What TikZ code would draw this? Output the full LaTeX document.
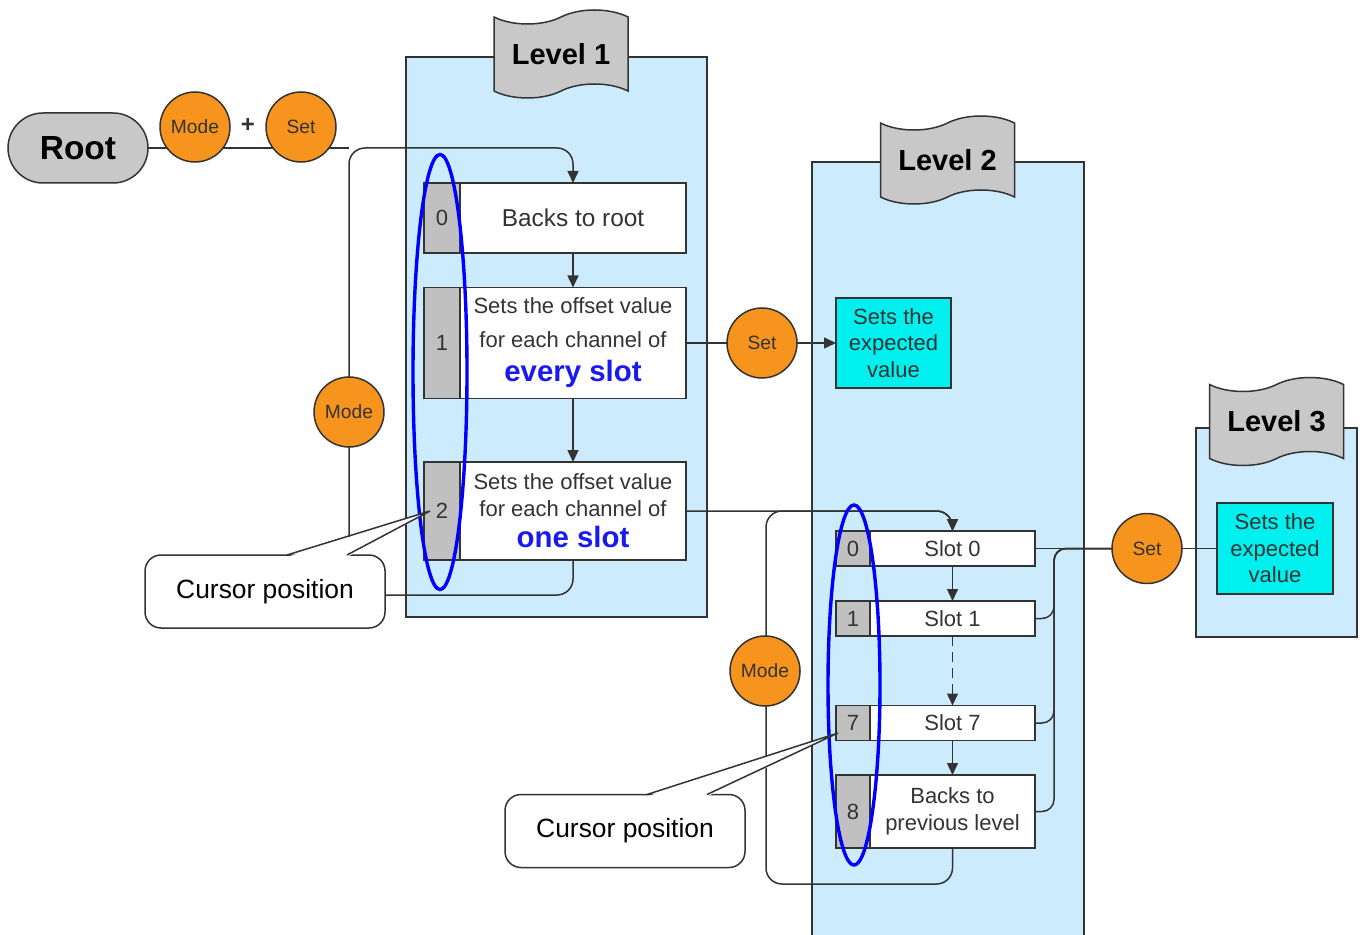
\documentclass[tikz,border=0pt]{standalone}
\usepackage{fontspec}
\setmainfont{Liberation Sans}
\usetikzlibrary{positioning,arrows.meta,shapes.geometric,shapes.symbols}
\definecolor{inkline}{HTML}{333333}
\definecolor{panelblue}{HTML}{CCEBFC}
\definecolor{btnorange}{HTML}{F7941D}
\definecolor{idxgrey}{HTML}{C0C0C0}
\definecolor{capgrey}{HTML}{C8C8C8}
\definecolor{tagcyan}{HTML}{00F0F0}
\definecolor{slotblue}{HTML}{1A1AF0}
\definecolor{ringblue}{HTML}{0000FF}
\definecolor{txtgrey}{HTML}{333333}
\newcommand{\fsz}[2]{\fontsize{#1}{#2}\selectfont}
\pgfdeclarelayer{panels}
\pgfdeclarelayer{wires}
\pgfsetlayers{panels,wires,main}
\tikzset{
  mn/.style={draw=inkline, line width=0.75pt, inner sep=0pt, outer sep=0pt, align=center, text=txtgrey},
  mn idx/.style={mn, fill=idxgrey, font=\fsz{11}{13}},
  mn entry/.style={mn, fill=white, font=\fsz{11}{13.5}},
  mn btn/.style={mn, circle, fill=btnorange, minimum size=35pt, font=\fsz{9.6}{11}},
  mn val/.style={mn, fill=tagcyan, minimum width=57.5pt, minimum height=45pt, font=\fsz{11}{13.2}},
  mn panel/.style={draw=inkline, line width=0.75pt, fill=panelblue},
  mn level/.style={mn, tape, fill=capgrey, text=black, minimum width=67pt, minimum height=44pt,
                   tape bend height=7pt, font=\bfseries\fsz{14.5}{16}},
  mn ring/.style={ellipse, draw=ringblue, line width=1.7pt, inner sep=0pt},
  mn call/.style={mn, fill=white, text=black, rounded corners=8pt, minimum width=120pt,
                  minimum height=36.5pt, font=\fsz{13.2}{15}},
  mn wire/.style={draw=inkline, line width=0.75pt, rounded corners=8pt},
  mn arr/.style={mn wire, -{Triangle[length=6pt,width=5.5pt]}},
}
\begin{document}
\begin{tikzpicture}[x=0.5pt, y=-0.5pt]
  \useasboundingbox (0,0) rectangle (1364,935);
  % the three level panels
  \begin{pgfonlayer}{panels}
    \node[mn panel, minimum width=150.5pt, minimum height=280pt] (L1) at (556.5,337) {};
    \node[mn panel, minimum width=136pt, minimum height=394pt] (L2) at (948,556) {};
    \node[mn panel, minimum width=80.5pt, minimum height=104.5pt] (L3) at (1276.5,532.5) {};
  \end{pgfonlayer}
  \node[mn level] (lv1) at (561,54) {Level 1};
  \node[mn level] (lv2) at (947.5,160) {Level 2};
  \node[mn level] (lv3) at (1276.5,421.5) {Level 3};
  % root and the key combination
  \node[mn, fill=capgrey, text=black, rounded corners=17.5pt, minimum width=70pt, minimum height=35pt,
        font=\bfseries\fsz{16.7}{18}] (root) at (78,148) {Root};
  \node[mn btn] (modeA) at (195,127) {Mode};
  \node[mn btn] (setA) at (301,127) {Set};
  \node[font=\bfseries\fsz{12}{14}, text=txtgrey] (plus) at (248,125) {+};
  % level 1 entries
  \node[mn idx, minimum width=18pt, minimum height=35pt] (i0) at (442,218) {0};
  \node[mn entry, right=0pt of i0, minimum width=113pt, minimum height=35pt, font=\fsz{12.2}{14}] (e0) {Backs to root};
  \node[mn idx, minimum width=18pt, minimum height=55.5pt] (i1) at (442,343) {1};
  \node[mn entry, right=0pt of i1, minimum width=113pt, minimum height=55.5pt, font=\fsz{11}{17}] (e1)
    {Sets the offset value\\for each channel of\\{\bfseries\color{slotblue}\fsz{14.7}{17}every slot}};
  \node[mn idx, minimum width=18pt, minimum height=49pt] (i2) at (442,511) {2};
  \node[mn entry, right=0pt of i2, minimum width=113pt, minimum height=49pt] (e2)
    {Sets the offset value\\for each channel of\\[2pt]{\bfseries\color{slotblue}\fsz{14.7}{17}one slot}};
  \node[mn btn] (modeB) at (349,412) {Mode};
  \node[mn btn] (setB) at (762,343) {Set};
  \node[mn val] (c2) at (893.5,343) {Sets the\\expected\\value};
  % level 2 entries
  \foreach \k/\y in {0/548.5,1/618.5,7/723} {
    \node[mn idx, minimum width=17pt, minimum height=17.5pt] (j\k) at (853,\y) {\k};
    \node[mn entry, right=0pt of j\k, minimum width=82.5pt, minimum height=17.5pt] (s\k) {Slot \k};
  }
  \node[mn idx, minimum width=17pt, minimum height=36.5pt] (j8) at (853,811.5) {8};
  \node[mn entry, right=0pt of j8, minimum width=82.5pt, minimum height=36.5pt] (s8) {Backs to\\previous level};
  \node[mn btn] (modeC) at (765,671) {Mode};
  \node[mn btn] (setC) at (1147,548.5) {Set};
  \node[mn val, minimum width=58pt, minimum height=45.5pt] (c3) at (1275,548.5) {Sets the\\expected\\value};
  % connectors
  \coordinate (lpA) at (349,595);
  \coordinate (lpB) at (349,148);
  \coordinate (lpC) at (766,884);
  \coordinate (lpD) at (766,511);
  \coordinate (bus) at (1054,548.5);
  \begin{pgfonlayer}{wires}
    \draw[mn wire] (root.east) -- (lpB);
    \draw[mn arr] (e2.south) |- (lpA) -- (lpB) -| (e0.north);
    \foreach \a/\b in {e0/e1,e1/e2,s0/s1,s7/s8} \draw[mn arr] (\a) -- (\b);
    \draw[mn arr, dash pattern=on 5pt off 3pt] (s1) -- (s7);
    \draw[mn wire] (e1.east) -- (setB);
    \draw[mn arr] (setB) -- (c2);
    \draw[mn arr] (e2.east) -| (s0.north);
    \draw[mn arr] (s8.south) |- (lpC) -- (lpD) -| (s0.north);
    \draw[mn wire] (s0.east) -- (setC) -- (c3);
    \foreach \n in {s1,s7,s8} \draw[mn wire, rounded corners=6pt] (\n.east) -| (bus) -- (setC);
  \end{pgfonlayer}
  % cursor rings and callouts
  \node[mn ring, minimum width=27pt, minimum height=217.5pt] (ring1) at (440,372) {};
  \node[mn ring, minimum width=26pt, minimum height=180pt] (ring2) at (854,685) {};
  \node[mn call] (cur1) at (265,591.5) {Cursor position};
  \fill[white] ([xshift=11pt,yshift=-1pt]cur1.north) -- ([xshift=3pt]i2.west) -- ([xshift=41pt,yshift=-1pt]cur1.north) -- cycle;
  \draw[mn wire, rounded corners=0pt] ([xshift=11pt]cur1.north) -- ([xshift=3pt]i2.west) -- ([xshift=41pt]cur1.north);
  \node[mn call] (cur2) at (625,831) {Cursor position};
  \fill[white] ([xshift=11pt,yshift=-1pt]cur2.north) -- ([xshift=1pt,yshift=-5pt]j7.west) -- ([xshift=41pt,yshift=-1pt]cur2.north) -- cycle;
  \draw[mn wire, rounded corners=0pt] ([xshift=11pt]cur2.north) -- ([xshift=1pt,yshift=-5pt]j7.west) -- ([xshift=41pt]cur2.north);
\end{tikzpicture}
\end{document}
